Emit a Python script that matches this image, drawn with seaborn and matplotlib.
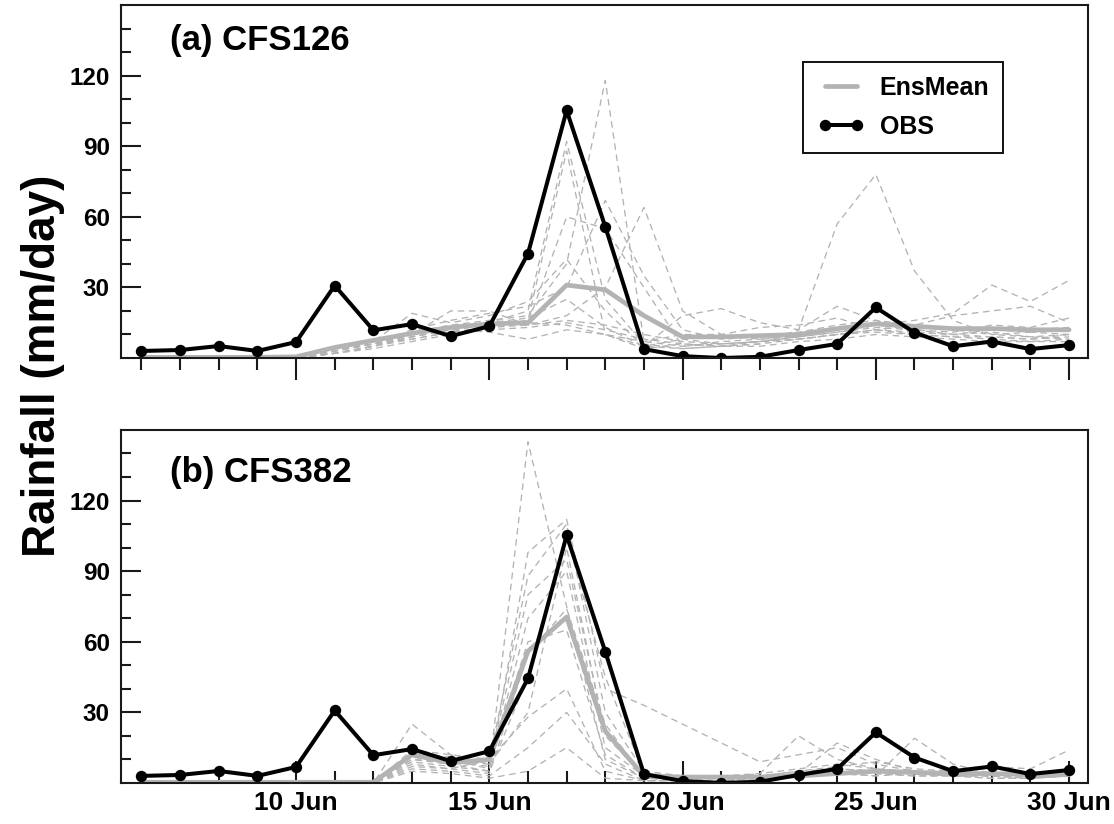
import numpy as np
import pandas as pd
import matplotlib
matplotlib.use("Agg")
import matplotlib.pyplot as plt
from matplotlib.lines import Line2D
from matplotlib.ticker import FixedLocator
import seaborn as sns

# ---------------- data ----------------
days = [6, 7, 8, 9, 10, 11, 12, 13, 14, 15, 16, 17, 18, 19, 20, 21, 22, 23, 24, 25, 26, 27, 28, 29, 30]

obs = [3.0, 3.4, 5.1, 3.0, 6.8, 30.8, 11.8, 14.4, 9.3, 13.5, 44.4, 105.2, 55.8, 3.8, 0.8,
       0.0, 0.5, 3.4, 6.0, 21.5, 10.8, 5.0, 7.0, 3.8, 5.5]

ensmean_a = [0.3, 0.3, 0.3, 0.3, 0.5, 4.5, 7.5, 10.5, 13.0, 14.5, 15.0, 31.0, 29.0, 18.0, 9.0,
             9.0, 9.5, 10.0, 12.5, 14.5, 13.5, 12.5, 12.5, 12.0, 12.0]
ensmean_b = [0.3, 0.3, 0.3, 0.3, 0.3, 0.3, 0.3, 12.0, 8.5, 10.0, 56.0, 70.5, 22.0, 3.0, 2.5,
             2.5, 2.5, 3.0, 4.0, 5.0, 4.5, 4.0, 4.0, 3.5, 3.5]

members_a = {
    "m01": [0, 0, 0, 0, 0, 3, 6, 10, 13, 15, 20, 92, 25, 6, 4, 5, 6, 8, 10, 12, 10, 9, 8, 7, 8],
    "m02": [0, 0, 0, 0, 0, 2, 5, 9, 12, 14, 16, 88, 10, 5, 8, 6, 7, 9, 12, 15, 12, 10, 11, 9, 10],
    "m03": [0, 0, 0, 0, 0, 4, 7, 11, 14, 16, 18, 40, 118, 7, 5, 7, 8, 10, 12, 14, 13, 12, 10, 11, 12],
    "m04": [0, 0, 0, 0, 0, 3, 6, 12, 16, 19, 22, 30, 67, 35, 12, 8, 9, 11, 14, 16, 14, 13, 12, 12, 13],
    "m05": [0, 0, 0, 0, 0, 2, 5, 8, 11, 13, 14, 18, 30, 64, 20, 10, 8, 9, 11, 13, 12, 11, 14, 13, 17],
    "m06": [0, 0, 0, 0, 0, 3, 7, 19, 15, 18, 24, 42, 20, 5, 18, 21, 15, 12, 22, 16, 11, 10, 12, 11, 10],
    "m07": [0, 0, 0, 0, 0, 2, 4, 7, 10, 12, 13, 15, 12, 8, 6, 5, 6, 12, 57, 78, 37, 16, 10, 9, 8],
    "m08": [0, 0, 0, 0, 0, 3, 6, 10, 20, 20, 14, 16, 14, 10, 7, 6, 7, 9, 11, 14, 16, 19, 31, 24, 33],
    "m09": [0, 0, 0, 0, 0, 2, 5, 9, 12, 11, 8, 12, 10, 7, 10, 10, 13, 14, 17, 12, 14, 18, 20, 22, 15],
    "m10": [0, 0, 0, 0, 0, 3, 6, 9, 12, 14, 15, 14, 10, 4, 6, 5, 7, 8, 10, 11, 10, 9, 9, 8, 9],
    "m11": [0, 0, 0, 0, 0, 2, 5, 10, 13, 15, 17, 25, 13, 5, 4, 5, 5, 7, 8, 10, 9, 8, 7, 7, 7],
    "m12": [0, 0, 0, 0, 0, 3, 6, 8, 11, 13, 15, 60, 55, 30, 5, 6, 7, 8, 10, 12, 11, 10, 9, 8, 10],
}

members_b = {
    "m01": [0, 0, 0, 0, 0, 0, 0, 25, 12, 8, 30, 100, 20, 3, 2, 2, 3, 4, 6, 5, 4, 3, 3, 2, 3],
    "m02": [0, 0, 0, 0, 0, 0, 0, 12, 10, 6, 145, 75, 10, 2, 1, 2, 2, 3, 5, 4, 3, 3, 2, 2, 3],
    "m03": [0, 0, 0, 0, 0, 0, 0, 10, 8, 5, 98, 112, 40, 33, 25, 17, 9, 12, 15, 8, 5, 4, 3, 3, 4],
    "m04": [0, 0, 0, 0, 0, 0, 0, 14, 12, 10, 88, 110, 30, 5, 3, 3, 4, 6, 8, 6, 5, 4, 4, 3, 4],
    "m05": [0, 0, 0, 0, 0, 0, 0, 8, 6, 4, 55, 74, 25, 2, 2, 2, 4, 20, 10, 6, 4, 3, 3, 2, 3],
    "m06": [0, 0, 0, 0, 0, 0, 0, 6, 5, 3, 15, 30, 8, 1, 1, 1, 2, 3, 4, 3, 19, 8, 4, 3, 3],
    "m07": [0, 0, 0, 0, 0, 0, 0, 5, 4, 2, 5, 15, 2, 1, 1, 1, 2, 3, 4, 3, 4, 6, 7, 6, 14],
    "m08": [0, 0, 0, 0, 0, 0, 0, 11, 9, 7, 70, 90, 15, 3, 2, 2, 3, 4, 17, 10, 5, 4, 4, 3, 4],
    "m09": [0, 0, 0, 0, 0, 0, 0, 9, 7, 5, 45, 105, 45, 4, 3, 3, 3, 5, 6, 5, 4, 5, 4, 3, 5],
    "m10": [0, 0, 0, 0, 0, 0, 0, 13, 11, 9, 60, 65, 12, 2, 2, 2, 3, 5, 7, 9, 6, 5, 4, 3, 4],
    "m11": [0, 0, 0, 0, 0, 0, 0, 7, 6, 10, 28, 40, 5, 1, 1, 1, 2, 3, 4, 4, 3, 3, 2, 2, 3],
    "m12": [0, 0, 0, 0, 0, 0, 0, 10, 9, 8, 80, 95, 22, 3, 2, 2, 3, 4, 6, 5, 4, 4, 3, 3, 4],
}

panel_titles = ["(a) CFS126", "(b) CFS382"]
xtick_days = [10, 15, 20, 25, 30]
xtick_labels = ["10 Jun", "15 Jun", "20 Jun", "25 Jun", "30 Jun"]
ytick_major = [30, 60, 90, 120]
ytick_minor = [10, 20, 40, 50, 70, 80, 100, 110, 130, 140]
ylabel = "Rainfall (mm/day)"
legend_labels = ["EnsMean", "OBS"]

# ---------------- style ----------------
sns.set_style("ticks")
plt.rcParams["font.family"] = ["Liberation Sans", "DejaVu Sans"]
plt.rcParams["font.weight"] = "bold"
plt.rcParams["text.color"] = "black"
plt.rcParams["axes.labelcolor"] = "black"
plt.rcParams["xtick.color"] = "black"
plt.rcParams["ytick.color"] = "black"
plt.rcParams["xtick.labelcolor"] = "black"
plt.rcParams["ytick.labelcolor"] = "black"

MEMBER_C = "#b3b3b3"
MEAN_C = "#b3b3b3"
OBS_C = "#000000"
SPINE_C = "#1a1a1a"

fig = plt.figure(figsize=(11.14, 8.24), dpi=100)
ax_a = fig.add_axes([0.1086, 0.5655, 0.8681, 0.4284])
ax_b = fig.add_axes([0.1086, 0.0498, 0.8681, 0.4284])


def members_df(members):
    rows = []
    for name, vals in members.items():
        for d, v in zip(days, vals):
            rows.append({"day": d, "rain": v, "member": name})
    return pd.DataFrame(rows)


def draw_panel(ax, members, ensmean, title, title_y):
    dfm = members_df(members)
    sns.lineplot(data=dfm, x="day", y="rain", units="member", estimator=None,
                 color=MEMBER_C, lw=0.95, linestyle=(0, (5, 3.5)), legend=False, ax=ax)
    dfe = pd.DataFrame({"day": days, "rain": ensmean})
    sns.lineplot(data=dfe, x="day", y="rain", color=MEAN_C, lw=3.4, legend=False, ax=ax)
    dfo = pd.DataFrame({"day": days, "rain": obs})
    sns.lineplot(data=dfo, x="day", y="rain", color=OBS_C, lw=2.9, marker="o",
                 markersize=8.2, markeredgewidth=0, legend=False, ax=ax)

    ax.set_xlim(5.47, 30.49)
    ax.set_ylim(0, 150)
    ax.set_xlabel("")
    ax.set_ylabel("")
    ax.yaxis.set_major_locator(FixedLocator(ytick_major))
    ax.yaxis.set_minor_locator(FixedLocator(ytick_minor))
    ax.set_yticklabels([str(v) for v in ytick_major])
    ax.xaxis.set_major_locator(FixedLocator(xtick_days))
    ax.xaxis.set_minor_locator(FixedLocator([d for d in days if d not in xtick_days]))
    ax.set_xticklabels(xtick_labels)
    for s in ax.spines.values():
        s.set_visible(True)
        s.set_color(SPINE_C)
        s.set_linewidth(1.5)
    ax.tick_params(axis="y", which="major", direction="in", length=14.5, width=1.5,
                   color=SPINE_C, labelcolor="black", labelsize=17.5, pad=8,
                   left=True, right=False)
    ax.tick_params(axis="y", which="minor", direction="in", length=7.5, width=1.5,
                   color=SPINE_C, left=True, right=False)
    ax.text(0.0507, title_y, title, transform=ax.transAxes, fontsize=25, color="black",
            fontweight="bold", va="baseline", ha="left")


draw_panel(ax_a, members_a, ensmean_a, panel_titles[0], 0.8725)
draw_panel(ax_b, members_b, ensmean_b, panel_titles[1], 0.853)

ax_a.tick_params(axis="x", which="major", direction="out", length=16, width=1.5,
                 color=SPINE_C, labelbottom=False, top=False)
ax_a.tick_params(axis="x", which="minor", direction="out", length=8.6, width=1.5,
                 color=SPINE_C, top=False)
ax_b.tick_params(axis="x", which="major", direction="in", length=16, width=1.5,
                 color=SPINE_C, labelcolor="black", labelsize=19, pad=6, top=False)
ax_b.tick_params(axis="x", which="minor", direction="in", length=8.6, width=1.5,
                 color=SPINE_C, top=False)
for lab in ax_a.get_yticklabels() + ax_b.get_yticklabels() + ax_b.get_xticklabels():
    lab.set_fontweight("bold")

# legend in panel (a)
handles = [
    Line2D([], [], color=MEAN_C, lw=3.4),
    Line2D([], [], color=OBS_C, lw=2.9, marker="o", markersize=8.2, markeredgewidth=0),
]
leg = ax_a.legend(handles, legend_labels, loc="upper right", bbox_to_anchor=(0.912, 0.8385),
                  borderaxespad=0, numpoints=2, frameon=True, fancybox=False,
                  framealpha=1, edgecolor="#111111", handlelength=1.9, handletextpad=0.6,
                  labelspacing=0.6, borderpad=0.55, prop={"weight": "bold", "size": 18})
leg.get_frame().set_linewidth(1.4)
for t in leg.get_texts():
    t.set_color("black")

fig.text(0.039, 0.556, ylabel, rotation=90, ha="center", va="center",
         fontsize=33, fontweight="bold", color="black")

fig.savefig("out.png", dpi=100)
